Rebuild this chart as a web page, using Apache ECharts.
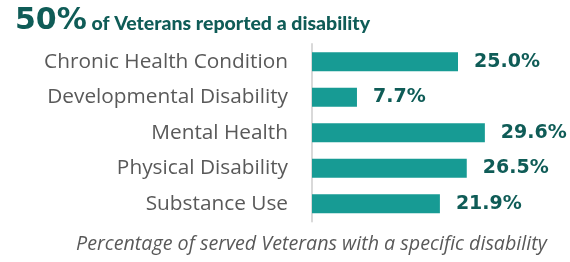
<!DOCTYPE html>
<html><head><meta charset="utf-8">
<script src="https://cdn.jsdelivr.net/npm/echarts@6/dist/echarts.min.js"></script>
<style>html,body{margin:0;padding:0;background:#fff}#c{width:570px;height:262px}</style>
</head><body><div id="c"></div>
<script>
const categories = ["Chronic Health Condition","Developmental Disability","Mental Health","Physical Disability","Substance Use"];
const values = [25.0, 7.7, 29.6, 26.5, 21.9];
const headlineValue = "50%";
const headlineText = "of Veterans reported a disability";
const footnote = "Percentage of served Veterans with a specific disability";

const chart = echarts.init(document.getElementById('c'), null, {renderer:'canvas'});
chart.setOption({
  animation: false,
  backgroundColor: '#fff',
  title: [{
    left: 10, top: 1,
    text: '{big|' + headlineValue + '}{small| ' + headlineText + '}',
    textStyle: {
      rich: {
        big: {fontFamily: 'DejaVu Sans', fontWeight: 'bold', fontSize: 30, color: '#0f5c57'},
        small: {fontFamily: 'Lato', fontWeight: 900, fontSize: 19.5, color: '#0f5c57', padding:[5,0,0,0]}
      }
    }
  },{
    left: 71, top: 229,
    text: footnote,
    textStyle: {fontFamily: 'Open Sans', fontStyle: 'italic', fontWeight: 'normal', fontSize: 19.7, color: '#595959'}
  }],
  grid: {left: 312, top: 44, height: 177.5, right: 24.4},
  xAxis: {type: 'value', min: 0, max: 40, show: false},
  yAxis: {
    type: 'category', data: categories, inverse: true,
    axisLine: {show: true, lineStyle: {color: '#d9d9d9', width: 2}},
    axisTick: {show: false},
    axisLabel: {fontFamily: 'Open Sans', fontSize: 20.8, color: '#595959', margin: 24}
  },
  series: [{
    type: 'bar', data: values, barWidth: 19,
    itemStyle: {color: '#179b94'},
    label: {
      show: true, position: 'right', distance: 16,
      formatter: p => p.value.toFixed(1) + '%',
      fontFamily: 'DejaVu Sans', fontWeight: 'bold', fontSize: 19, color: '#0f5c57'
    }
  }]
});
</script></body></html>
